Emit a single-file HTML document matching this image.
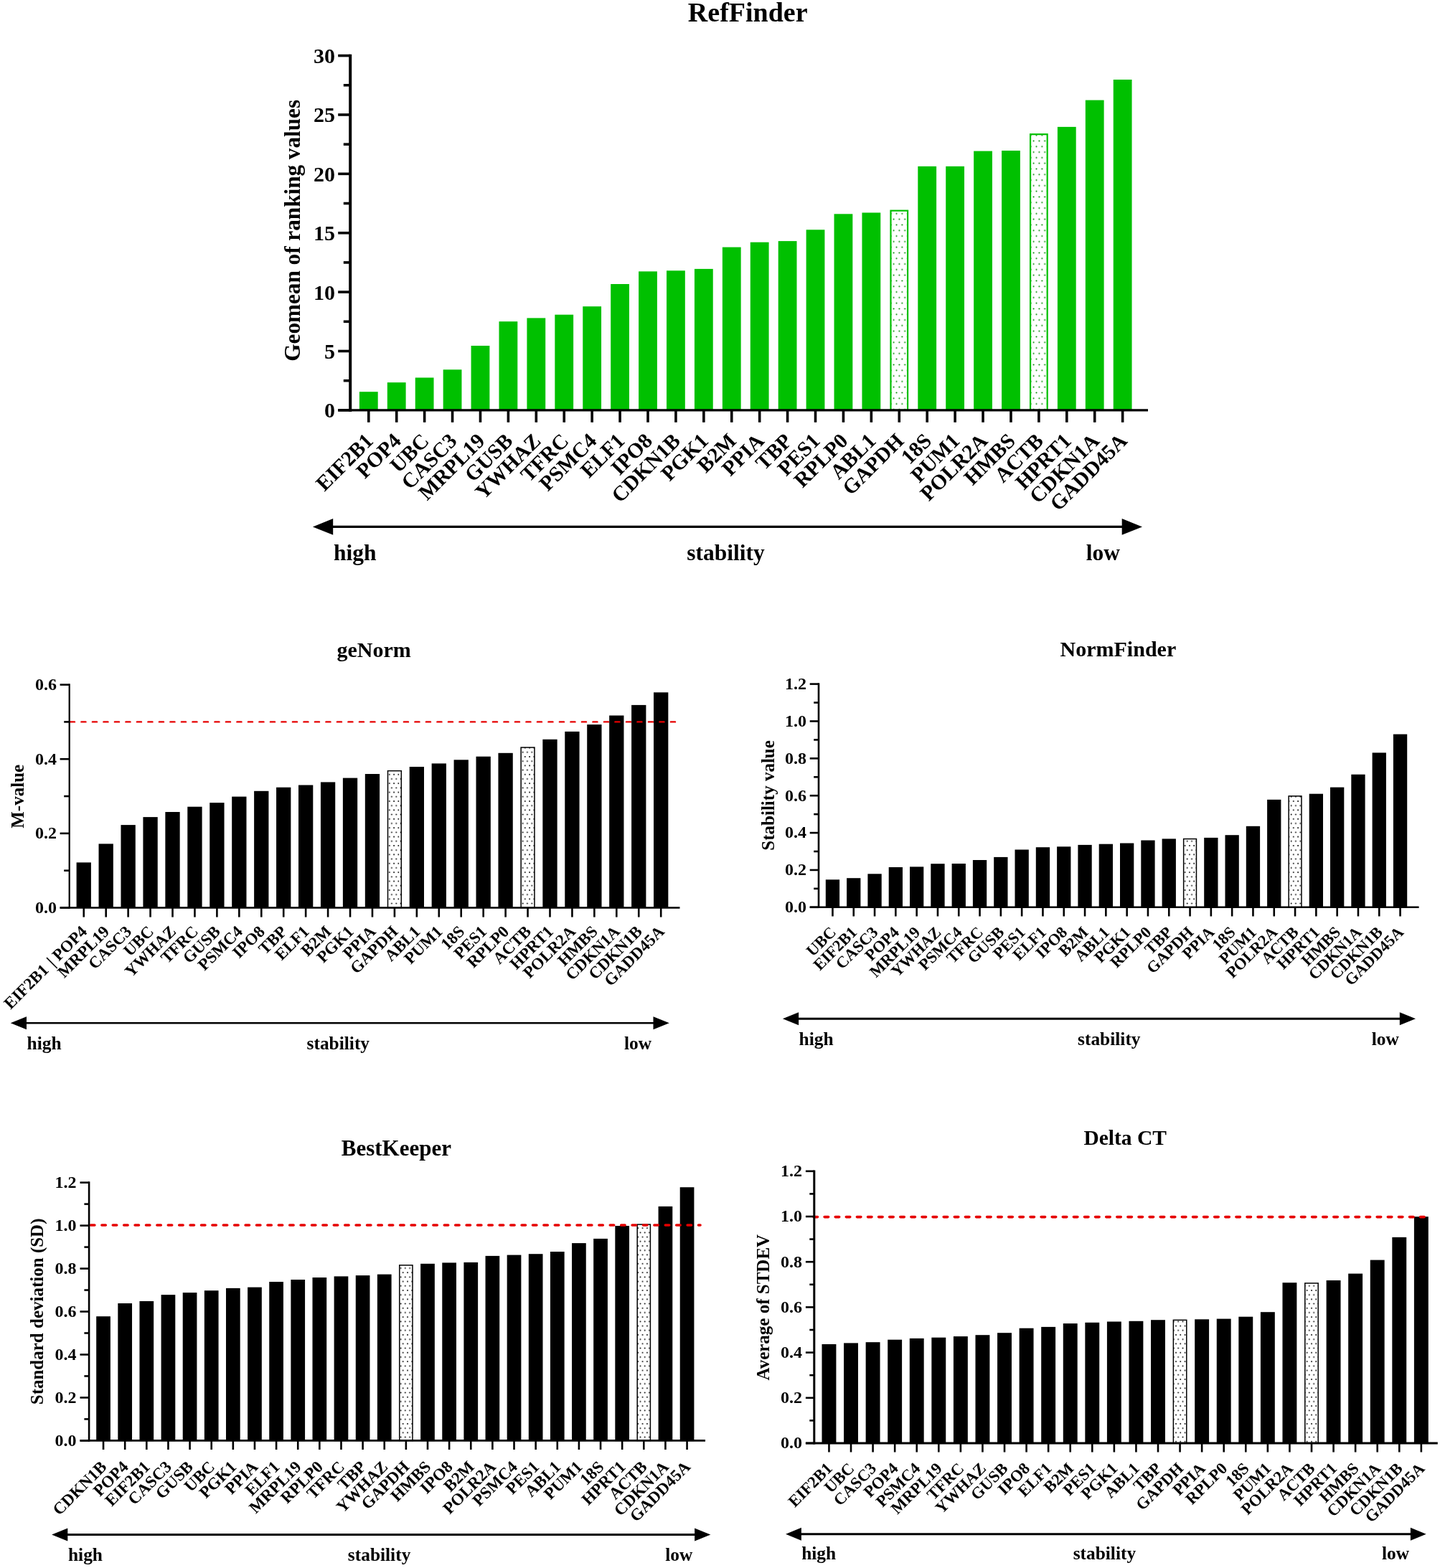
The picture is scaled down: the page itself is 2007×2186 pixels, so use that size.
<!DOCTYPE html>
<html><head><meta charset="utf-8"><title>Reference gene stability</title>
<style>
html,body{margin:0;padding:0;background:#fff;}
svg{display:block;}
text{font-family:'Liberation Serif', 'Times New Roman', serif;font-weight:bold;fill:#000;}
</style></head>
<body>
<svg width="2007" height="2186" viewBox="0 0 2007 2186">
<rect x="0" y="0" width="2007" height="2186" fill="#fff"/>
<defs>
<pattern id="pgreen" patternUnits="userSpaceOnUse" width="7.8" height="15.6" x="0" y="0">
<circle cx="1.5" cy="1.5" r="1.05" fill="#008a00"/><circle cx="5.4" cy="9.3" r="1.05" fill="#008a00"/>
<rect width="0" height="0" fill="#fff"/>
</pattern>
<pattern id="pblack" patternUnits="userSpaceOnUse" width="6.3" height="12.4" x="0" y="0">
<circle cx="1" cy="1" r="0.95" fill="#000"/><circle cx="4.15" cy="7.2" r="0.95" fill="#000"/>
</pattern>
</defs>
<rect x="500.9" y="546.2" width="25.8" height="26.2" fill="#00c000"/>
<rect x="539.82" y="533.2" width="25.8" height="39.2" fill="#00c000"/>
<rect x="578.74" y="526.5" width="25.8" height="45.9" fill="#00c000"/>
<rect x="617.66" y="515.3" width="25.8" height="57.1" fill="#00c000"/>
<rect x="656.58" y="482" width="25.8" height="90.4" fill="#00c000"/>
<rect x="695.5" y="448.2" width="25.8" height="124.2" fill="#00c000"/>
<rect x="734.42" y="443.4" width="25.8" height="129" fill="#00c000"/>
<rect x="773.34" y="438.7" width="25.8" height="133.7" fill="#00c000"/>
<rect x="812.26" y="427.2" width="25.8" height="145.2" fill="#00c000"/>
<rect x="851.18" y="396" width="25.8" height="176.4" fill="#00c000"/>
<rect x="890.1" y="378.4" width="25.8" height="194" fill="#00c000"/>
<rect x="929.02" y="377.3" width="25.8" height="195.1" fill="#00c000"/>
<rect x="967.94" y="374.9" width="25.8" height="197.5" fill="#00c000"/>
<rect x="1006.86" y="344.6" width="25.8" height="227.8" fill="#00c000"/>
<rect x="1045.78" y="337.7" width="25.8" height="234.7" fill="#00c000"/>
<rect x="1084.7" y="336.1" width="25.8" height="236.3" fill="#00c000"/>
<rect x="1123.62" y="320.3" width="25.8" height="252.1" fill="#00c000"/>
<rect x="1162.54" y="298.3" width="25.8" height="274.1" fill="#00c000"/>
<rect x="1201.46" y="296.5" width="25.8" height="275.9" fill="#00c000"/>
<rect x="1241.48" y="293.7" width="23.6" height="278.2" fill="url(#pgreen)" stroke="#00c000" stroke-width="2.2"/>
<rect x="1279.3" y="231.9" width="25.8" height="340.5" fill="#00c000"/>
<rect x="1318.22" y="231.9" width="25.8" height="340.5" fill="#00c000"/>
<rect x="1357.14" y="210.6" width="25.8" height="361.8" fill="#00c000"/>
<rect x="1396.06" y="210" width="25.8" height="362.4" fill="#00c000"/>
<rect x="1436.08" y="187.2" width="23.6" height="384.7" fill="url(#pgreen)" stroke="#00c000" stroke-width="2.2"/>
<rect x="1473.9" y="176.9" width="25.8" height="395.5" fill="#00c000"/>
<rect x="1512.82" y="139.6" width="25.8" height="432.8" fill="#00c000"/>
<rect x="1551.74" y="111" width="25.8" height="461.4" fill="#00c000"/>
<line x1="488.2" y1="75.79" x2="488.2" y2="573.9" stroke="#000" stroke-width="4"/>
<line x1="471.2" y1="571.9" x2="1600" y2="571.9" stroke="#000" stroke-width="3.4"/>
<line x1="471.2" y1="571.9" x2="488.2" y2="571.9" stroke="#000" stroke-width="3.6"/>
<text x="467" y="582.4" font-size="30" text-anchor="end">0</text>
<line x1="478.8" y1="530.71" x2="488.2" y2="530.71" stroke="#000" stroke-width="3.6"/>
<line x1="471.2" y1="489.51" x2="488.2" y2="489.51" stroke="#000" stroke-width="3.6"/>
<text x="467" y="500.01" font-size="30" text-anchor="end">5</text>
<line x1="478.8" y1="448.32" x2="488.2" y2="448.32" stroke="#000" stroke-width="3.6"/>
<line x1="471.2" y1="407.13" x2="488.2" y2="407.13" stroke="#000" stroke-width="3.6"/>
<text x="467" y="417.63" font-size="30" text-anchor="end">10</text>
<line x1="478.8" y1="365.94" x2="488.2" y2="365.94" stroke="#000" stroke-width="3.6"/>
<line x1="471.2" y1="324.75" x2="488.2" y2="324.75" stroke="#000" stroke-width="3.6"/>
<text x="467" y="335.25" font-size="30" text-anchor="end">15</text>
<line x1="478.8" y1="283.55" x2="488.2" y2="283.55" stroke="#000" stroke-width="3.6"/>
<line x1="471.2" y1="242.36" x2="488.2" y2="242.36" stroke="#000" stroke-width="3.6"/>
<text x="467" y="252.86" font-size="30" text-anchor="end">20</text>
<line x1="478.8" y1="201.17" x2="488.2" y2="201.17" stroke="#000" stroke-width="3.6"/>
<line x1="471.2" y1="159.97" x2="488.2" y2="159.97" stroke="#000" stroke-width="3.6"/>
<text x="467" y="170.47" font-size="30" text-anchor="end">25</text>
<line x1="478.8" y1="118.78" x2="488.2" y2="118.78" stroke="#000" stroke-width="3.6"/>
<line x1="471.2" y1="77.59" x2="488.2" y2="77.59" stroke="#000" stroke-width="3.6"/>
<text x="467" y="88.09" font-size="30" text-anchor="end">30</text>
<line x1="513.8" y1="571.9" x2="513.8" y2="588.8" stroke="#000" stroke-width="3.6"/>
<text x="521.8" y="616.4" font-size="29.5" text-anchor="end" transform="rotate(-45 521.8 616.4)">EIF2B1</text>
<line x1="552.72" y1="571.9" x2="552.72" y2="588.8" stroke="#000" stroke-width="3.6"/>
<text x="560.72" y="616.4" font-size="29.5" text-anchor="end" transform="rotate(-45 560.72 616.4)">POP4</text>
<line x1="591.64" y1="571.9" x2="591.64" y2="588.8" stroke="#000" stroke-width="3.6"/>
<text x="599.64" y="616.4" font-size="29.5" text-anchor="end" transform="rotate(-45 599.64 616.4)">UBC</text>
<line x1="630.56" y1="571.9" x2="630.56" y2="588.8" stroke="#000" stroke-width="3.6"/>
<text x="638.56" y="616.4" font-size="29.5" text-anchor="end" transform="rotate(-45 638.56 616.4)">CASC3</text>
<line x1="669.48" y1="571.9" x2="669.48" y2="588.8" stroke="#000" stroke-width="3.6"/>
<text x="677.48" y="616.4" font-size="29.5" text-anchor="end" transform="rotate(-45 677.48 616.4)">MRPL19</text>
<line x1="708.4" y1="571.9" x2="708.4" y2="588.8" stroke="#000" stroke-width="3.6"/>
<text x="716.4" y="616.4" font-size="29.5" text-anchor="end" transform="rotate(-45 716.4 616.4)">GUSB</text>
<line x1="747.32" y1="571.9" x2="747.32" y2="588.8" stroke="#000" stroke-width="3.6"/>
<text x="755.32" y="616.4" font-size="29.5" text-anchor="end" transform="rotate(-45 755.32 616.4)">YWHAZ</text>
<line x1="786.24" y1="571.9" x2="786.24" y2="588.8" stroke="#000" stroke-width="3.6"/>
<text x="794.24" y="616.4" font-size="29.5" text-anchor="end" transform="rotate(-45 794.24 616.4)">TFRC</text>
<line x1="825.16" y1="571.9" x2="825.16" y2="588.8" stroke="#000" stroke-width="3.6"/>
<text x="833.16" y="616.4" font-size="29.5" text-anchor="end" transform="rotate(-45 833.16 616.4)">PSMC4</text>
<line x1="864.08" y1="571.9" x2="864.08" y2="588.8" stroke="#000" stroke-width="3.6"/>
<text x="872.08" y="616.4" font-size="29.5" text-anchor="end" transform="rotate(-45 872.08 616.4)">ELF1</text>
<line x1="903" y1="571.9" x2="903" y2="588.8" stroke="#000" stroke-width="3.6"/>
<text x="911" y="616.4" font-size="29.5" text-anchor="end" transform="rotate(-45 911 616.4)">IPO8</text>
<line x1="941.92" y1="571.9" x2="941.92" y2="588.8" stroke="#000" stroke-width="3.6"/>
<text x="949.92" y="616.4" font-size="29.5" text-anchor="end" transform="rotate(-45 949.92 616.4)">CDKN1B</text>
<line x1="980.84" y1="571.9" x2="980.84" y2="588.8" stroke="#000" stroke-width="3.6"/>
<text x="988.84" y="616.4" font-size="29.5" text-anchor="end" transform="rotate(-45 988.84 616.4)">PGK1</text>
<line x1="1019.76" y1="571.9" x2="1019.76" y2="588.8" stroke="#000" stroke-width="3.6"/>
<text x="1027.76" y="616.4" font-size="29.5" text-anchor="end" transform="rotate(-45 1027.76 616.4)">B2M</text>
<line x1="1058.68" y1="571.9" x2="1058.68" y2="588.8" stroke="#000" stroke-width="3.6"/>
<text x="1066.68" y="616.4" font-size="29.5" text-anchor="end" transform="rotate(-45 1066.68 616.4)">PPIA</text>
<line x1="1097.6" y1="571.9" x2="1097.6" y2="588.8" stroke="#000" stroke-width="3.6"/>
<text x="1105.6" y="616.4" font-size="29.5" text-anchor="end" transform="rotate(-45 1105.6 616.4)">TBP</text>
<line x1="1136.52" y1="571.9" x2="1136.52" y2="588.8" stroke="#000" stroke-width="3.6"/>
<text x="1144.52" y="616.4" font-size="29.5" text-anchor="end" transform="rotate(-45 1144.52 616.4)">PES1</text>
<line x1="1175.44" y1="571.9" x2="1175.44" y2="588.8" stroke="#000" stroke-width="3.6"/>
<text x="1183.44" y="616.4" font-size="29.5" text-anchor="end" transform="rotate(-45 1183.44 616.4)">RPLP0</text>
<line x1="1214.36" y1="571.9" x2="1214.36" y2="588.8" stroke="#000" stroke-width="3.6"/>
<text x="1222.36" y="616.4" font-size="29.5" text-anchor="end" transform="rotate(-45 1222.36 616.4)">ABL1</text>
<line x1="1253.28" y1="571.9" x2="1253.28" y2="588.8" stroke="#000" stroke-width="3.6"/>
<text x="1261.28" y="616.4" font-size="29.5" text-anchor="end" transform="rotate(-45 1261.28 616.4)">GAPDH</text>
<line x1="1292.2" y1="571.9" x2="1292.2" y2="588.8" stroke="#000" stroke-width="3.6"/>
<text x="1300.2" y="616.4" font-size="29.5" text-anchor="end" transform="rotate(-45 1300.2 616.4)">18S</text>
<line x1="1331.12" y1="571.9" x2="1331.12" y2="588.8" stroke="#000" stroke-width="3.6"/>
<text x="1339.12" y="616.4" font-size="29.5" text-anchor="end" transform="rotate(-45 1339.12 616.4)">PUM1</text>
<line x1="1370.04" y1="571.9" x2="1370.04" y2="588.8" stroke="#000" stroke-width="3.6"/>
<text x="1378.04" y="616.4" font-size="29.5" text-anchor="end" transform="rotate(-45 1378.04 616.4)">POLR2A</text>
<line x1="1408.96" y1="571.9" x2="1408.96" y2="588.8" stroke="#000" stroke-width="3.6"/>
<text x="1416.96" y="616.4" font-size="29.5" text-anchor="end" transform="rotate(-45 1416.96 616.4)">HMBS</text>
<line x1="1447.88" y1="571.9" x2="1447.88" y2="588.8" stroke="#000" stroke-width="3.6"/>
<text x="1455.88" y="616.4" font-size="29.5" text-anchor="end" transform="rotate(-45 1455.88 616.4)">ACTB</text>
<line x1="1486.8" y1="571.9" x2="1486.8" y2="588.8" stroke="#000" stroke-width="3.6"/>
<text x="1494.8" y="616.4" font-size="29.5" text-anchor="end" transform="rotate(-45 1494.8 616.4)">HPRT1</text>
<line x1="1525.72" y1="571.9" x2="1525.72" y2="588.8" stroke="#000" stroke-width="3.6"/>
<text x="1533.72" y="616.4" font-size="29.5" text-anchor="end" transform="rotate(-45 1533.72 616.4)">CDKN1A</text>
<line x1="1564.64" y1="571.9" x2="1564.64" y2="588.8" stroke="#000" stroke-width="3.6"/>
<text x="1572.64" y="616.4" font-size="29.5" text-anchor="end" transform="rotate(-45 1572.64 616.4)">GADD45A</text>
<text x="1042.2" y="29.8" font-size="38" text-anchor="middle">RefFinder</text>
<text x="418.1" y="321.3" font-size="31.2" text-anchor="middle" transform="rotate(-90 418.1 321.3)">Geomean of ranking values</text>
<line x1="463.2" y1="734.4" x2="1564.7" y2="734.4" stroke="#000" stroke-width="3.2"/>
<polygon points="435.9,734.4 464.2,723 464.2,745.8" fill="#000"/>
<polygon points="1592,734.4 1563.7,723 1563.7,745.8" fill="#000"/>
<text x="465" y="781.3" font-size="31.5" text-anchor="start">high</text>
<text x="1011.4" y="781.3" font-size="31.5" text-anchor="middle">stability</text>
<text x="1561" y="781.3" font-size="31.5" text-anchor="end">low</text>
<rect x="106.6" y="1202.4" width="20.3" height="63.6" fill="#000"/>
<rect x="137.54" y="1176.4" width="20.3" height="89.6" fill="#000"/>
<rect x="168.48" y="1150.1" width="20.3" height="115.9" fill="#000"/>
<rect x="199.42" y="1139.1" width="20.3" height="126.9" fill="#000"/>
<rect x="230.36" y="1132" width="20.3" height="134" fill="#000"/>
<rect x="261.3" y="1124.7" width="20.3" height="141.3" fill="#000"/>
<rect x="292.24" y="1119.1" width="20.3" height="146.9" fill="#000"/>
<rect x="323.18" y="1110.6" width="20.3" height="155.4" fill="#000"/>
<rect x="354.12" y="1102.8" width="20.3" height="163.2" fill="#000"/>
<rect x="385.06" y="1097.7" width="20.3" height="168.3" fill="#000"/>
<rect x="416" y="1094.5" width="20.3" height="171.5" fill="#000"/>
<rect x="446.94" y="1090.4" width="20.3" height="175.6" fill="#000"/>
<rect x="477.88" y="1084.6" width="20.3" height="181.4" fill="#000"/>
<rect x="508.82" y="1079" width="20.3" height="187" fill="#000"/>
<rect x="540.51" y="1074.65" width="18.8" height="190.85" fill="url(#pblack)" stroke="#000" stroke-width="1.5"/>
<rect x="570.7" y="1069" width="20.3" height="197" fill="#000"/>
<rect x="601.64" y="1064.4" width="20.3" height="201.6" fill="#000"/>
<rect x="632.58" y="1059.3" width="20.3" height="206.7" fill="#000"/>
<rect x="663.52" y="1054.7" width="20.3" height="211.3" fill="#000"/>
<rect x="694.46" y="1049.8" width="20.3" height="216.2" fill="#000"/>
<rect x="726.15" y="1042.05" width="18.8" height="223.45" fill="url(#pblack)" stroke="#000" stroke-width="1.5"/>
<rect x="756.34" y="1030.8" width="20.3" height="235.2" fill="#000"/>
<rect x="787.28" y="1019.9" width="20.3" height="246.1" fill="#000"/>
<rect x="818.22" y="1010.1" width="20.3" height="255.9" fill="#000"/>
<rect x="849.16" y="997.5" width="20.3" height="268.5" fill="#000"/>
<rect x="880.1" y="982.9" width="20.3" height="283.1" fill="#000"/>
<rect x="911.04" y="965.3" width="20.3" height="300.7" fill="#000"/>
<line x1="97.9" y1="1006.4" x2="950" y2="1006.4" stroke="#e60000" stroke-width="2.4" stroke-dasharray="6.1 9.4" stroke-linecap="round"/>
<line x1="96.7" y1="953.28" x2="96.7" y2="1266.6" stroke="#000" stroke-width="2.2"/>
<line x1="83.6" y1="1265.5" x2="947.5" y2="1265.5" stroke="#000" stroke-width="2.6"/>
<line x1="83.6" y1="1265.5" x2="96.7" y2="1265.5" stroke="#000" stroke-width="2.6"/>
<text x="79" y="1272.9" font-size="24" text-anchor="end">0.0</text>
<line x1="89.2" y1="1213.68" x2="96.7" y2="1213.68" stroke="#000" stroke-width="2.6"/>
<line x1="83.6" y1="1161.86" x2="96.7" y2="1161.86" stroke="#000" stroke-width="2.6"/>
<text x="79" y="1169.26" font-size="24" text-anchor="end">0.2</text>
<line x1="89.2" y1="1110.04" x2="96.7" y2="1110.04" stroke="#000" stroke-width="2.6"/>
<line x1="83.6" y1="1058.22" x2="96.7" y2="1058.22" stroke="#000" stroke-width="2.6"/>
<text x="79" y="1065.62" font-size="24" text-anchor="end">0.4</text>
<line x1="89.2" y1="1006.4" x2="96.7" y2="1006.4" stroke="#000" stroke-width="2.6"/>
<line x1="83.6" y1="954.58" x2="96.7" y2="954.58" stroke="#000" stroke-width="2.6"/>
<text x="79" y="961.98" font-size="24" text-anchor="end">0.6</text>
<line x1="116.75" y1="1265.5" x2="116.75" y2="1278.6" stroke="#000" stroke-width="2.6"/>
<text x="122.75" y="1300" font-size="23" text-anchor="end" transform="rotate(-45 122.75 1300)">EIF2B1&#8202; | POP4</text>
<line x1="147.69" y1="1265.5" x2="147.69" y2="1278.6" stroke="#000" stroke-width="2.6"/>
<text x="153.69" y="1300" font-size="23" text-anchor="end" transform="rotate(-45 153.69 1300)">MRPL19</text>
<line x1="178.63" y1="1265.5" x2="178.63" y2="1278.6" stroke="#000" stroke-width="2.6"/>
<text x="184.63" y="1300" font-size="23" text-anchor="end" transform="rotate(-45 184.63 1300)">CASC3</text>
<line x1="209.57" y1="1265.5" x2="209.57" y2="1278.6" stroke="#000" stroke-width="2.6"/>
<text x="215.57" y="1300" font-size="23" text-anchor="end" transform="rotate(-45 215.57 1300)">UBC</text>
<line x1="240.51" y1="1265.5" x2="240.51" y2="1278.6" stroke="#000" stroke-width="2.6"/>
<text x="246.51" y="1300" font-size="23" text-anchor="end" transform="rotate(-45 246.51 1300)">YWHAZ</text>
<line x1="271.45" y1="1265.5" x2="271.45" y2="1278.6" stroke="#000" stroke-width="2.6"/>
<text x="277.45" y="1300" font-size="23" text-anchor="end" transform="rotate(-45 277.45 1300)">TFRC</text>
<line x1="302.39" y1="1265.5" x2="302.39" y2="1278.6" stroke="#000" stroke-width="2.6"/>
<text x="308.39" y="1300" font-size="23" text-anchor="end" transform="rotate(-45 308.39 1300)">GUSB</text>
<line x1="333.33" y1="1265.5" x2="333.33" y2="1278.6" stroke="#000" stroke-width="2.6"/>
<text x="339.33" y="1300" font-size="23" text-anchor="end" transform="rotate(-45 339.33 1300)">PSMC4</text>
<line x1="364.27" y1="1265.5" x2="364.27" y2="1278.6" stroke="#000" stroke-width="2.6"/>
<text x="370.27" y="1300" font-size="23" text-anchor="end" transform="rotate(-45 370.27 1300)">IPO8</text>
<line x1="395.21" y1="1265.5" x2="395.21" y2="1278.6" stroke="#000" stroke-width="2.6"/>
<text x="401.21" y="1300" font-size="23" text-anchor="end" transform="rotate(-45 401.21 1300)">TBP</text>
<line x1="426.15" y1="1265.5" x2="426.15" y2="1278.6" stroke="#000" stroke-width="2.6"/>
<text x="432.15" y="1300" font-size="23" text-anchor="end" transform="rotate(-45 432.15 1300)">ELF1</text>
<line x1="457.09" y1="1265.5" x2="457.09" y2="1278.6" stroke="#000" stroke-width="2.6"/>
<text x="463.09" y="1300" font-size="23" text-anchor="end" transform="rotate(-45 463.09 1300)">B2M</text>
<line x1="488.03" y1="1265.5" x2="488.03" y2="1278.6" stroke="#000" stroke-width="2.6"/>
<text x="494.03" y="1300" font-size="23" text-anchor="end" transform="rotate(-45 494.03 1300)">PGK1</text>
<line x1="518.97" y1="1265.5" x2="518.97" y2="1278.6" stroke="#000" stroke-width="2.6"/>
<text x="524.97" y="1300" font-size="23" text-anchor="end" transform="rotate(-45 524.97 1300)">PPIA</text>
<line x1="549.91" y1="1265.5" x2="549.91" y2="1278.6" stroke="#000" stroke-width="2.6"/>
<text x="555.91" y="1300" font-size="23" text-anchor="end" transform="rotate(-45 555.91 1300)">GAPDH</text>
<line x1="580.85" y1="1265.5" x2="580.85" y2="1278.6" stroke="#000" stroke-width="2.6"/>
<text x="586.85" y="1300" font-size="23" text-anchor="end" transform="rotate(-45 586.85 1300)">ABL1</text>
<line x1="611.79" y1="1265.5" x2="611.79" y2="1278.6" stroke="#000" stroke-width="2.6"/>
<text x="617.79" y="1300" font-size="23" text-anchor="end" transform="rotate(-45 617.79 1300)">PUM1</text>
<line x1="642.73" y1="1265.5" x2="642.73" y2="1278.6" stroke="#000" stroke-width="2.6"/>
<text x="648.73" y="1300" font-size="23" text-anchor="end" transform="rotate(-45 648.73 1300)">18S</text>
<line x1="673.67" y1="1265.5" x2="673.67" y2="1278.6" stroke="#000" stroke-width="2.6"/>
<text x="679.67" y="1300" font-size="23" text-anchor="end" transform="rotate(-45 679.67 1300)">PES1</text>
<line x1="704.61" y1="1265.5" x2="704.61" y2="1278.6" stroke="#000" stroke-width="2.6"/>
<text x="710.61" y="1300" font-size="23" text-anchor="end" transform="rotate(-45 710.61 1300)">RPLP0</text>
<line x1="735.55" y1="1265.5" x2="735.55" y2="1278.6" stroke="#000" stroke-width="2.6"/>
<text x="741.55" y="1300" font-size="23" text-anchor="end" transform="rotate(-45 741.55 1300)">ACTB</text>
<line x1="766.49" y1="1265.5" x2="766.49" y2="1278.6" stroke="#000" stroke-width="2.6"/>
<text x="772.49" y="1300" font-size="23" text-anchor="end" transform="rotate(-45 772.49 1300)">HPRT1</text>
<line x1="797.43" y1="1265.5" x2="797.43" y2="1278.6" stroke="#000" stroke-width="2.6"/>
<text x="803.43" y="1300" font-size="23" text-anchor="end" transform="rotate(-45 803.43 1300)">POLR2A</text>
<line x1="828.37" y1="1265.5" x2="828.37" y2="1278.6" stroke="#000" stroke-width="2.6"/>
<text x="834.37" y="1300" font-size="23" text-anchor="end" transform="rotate(-45 834.37 1300)">HMBS</text>
<line x1="859.31" y1="1265.5" x2="859.31" y2="1278.6" stroke="#000" stroke-width="2.6"/>
<text x="865.31" y="1300" font-size="23" text-anchor="end" transform="rotate(-45 865.31 1300)">CDKN1A</text>
<line x1="890.25" y1="1265.5" x2="890.25" y2="1278.6" stroke="#000" stroke-width="2.6"/>
<text x="896.25" y="1300" font-size="23" text-anchor="end" transform="rotate(-45 896.25 1300)">CDKN1B</text>
<line x1="921.19" y1="1265.5" x2="921.19" y2="1278.6" stroke="#000" stroke-width="2.6"/>
<text x="927.19" y="1300" font-size="23" text-anchor="end" transform="rotate(-45 927.19 1300)">GADD45A</text>
<text x="521.1" y="915.7" font-size="30" text-anchor="middle">geNorm</text>
<text x="33" y="1110.3" font-size="25" text-anchor="middle" transform="rotate(-90 33 1110.3)">M-value</text>
<line x1="36" y1="1426.3" x2="911.5" y2="1426.3" stroke="#000" stroke-width="2.6"/>
<polygon points="14.7,1426.3 37,1417.3 37,1435.3" fill="#000"/>
<polygon points="932.8,1426.3 910.5,1417.3 910.5,1435.3" fill="#000"/>
<text x="37.6" y="1462.8" font-size="25.4" text-anchor="start">high</text>
<text x="471.3" y="1462.8" font-size="25.4" text-anchor="middle">stability</text>
<text x="908" y="1462.8" font-size="25.4" text-anchor="end">low</text>
<rect x="1150.8" y="1226.3" width="19.3" height="39" fill="#000"/>
<rect x="1180.1" y="1224.2" width="19.3" height="41.1" fill="#000"/>
<rect x="1209.4" y="1218.3" width="19.3" height="47" fill="#000"/>
<rect x="1238.7" y="1209" width="19.3" height="56.3" fill="#000"/>
<rect x="1268" y="1208.4" width="19.3" height="56.9" fill="#000"/>
<rect x="1297.3" y="1204.2" width="19.3" height="61.1" fill="#000"/>
<rect x="1326.6" y="1204" width="19.3" height="61.3" fill="#000"/>
<rect x="1355.9" y="1199" width="19.3" height="66.3" fill="#000"/>
<rect x="1385.2" y="1194.9" width="19.3" height="70.4" fill="#000"/>
<rect x="1414.5" y="1184.5" width="19.3" height="80.8" fill="#000"/>
<rect x="1443.8" y="1181.2" width="19.3" height="84.1" fill="#000"/>
<rect x="1473.1" y="1180.3" width="19.3" height="85" fill="#000"/>
<rect x="1502.4" y="1177.9" width="19.3" height="87.4" fill="#000"/>
<rect x="1531.7" y="1176.7" width="19.3" height="88.6" fill="#000"/>
<rect x="1561" y="1175.5" width="19.3" height="89.8" fill="#000"/>
<rect x="1590.3" y="1171.5" width="19.3" height="93.8" fill="#000"/>
<rect x="1619.6" y="1169.4" width="19.3" height="95.9" fill="#000"/>
<rect x="1649.65" y="1169.55" width="17.8" height="95.25" fill="url(#pblack)" stroke="#000" stroke-width="1.5"/>
<rect x="1678.2" y="1167.9" width="19.3" height="97.4" fill="#000"/>
<rect x="1707.5" y="1164.2" width="19.3" height="101.1" fill="#000"/>
<rect x="1736.8" y="1151.8" width="19.3" height="113.5" fill="#000"/>
<rect x="1766.1" y="1114.8" width="19.3" height="150.5" fill="#000"/>
<rect x="1796.15" y="1109.85" width="17.8" height="154.95" fill="url(#pblack)" stroke="#000" stroke-width="1.5"/>
<rect x="1824.7" y="1106.7" width="19.3" height="158.6" fill="#000"/>
<rect x="1854" y="1097.6" width="19.3" height="167.7" fill="#000"/>
<rect x="1883.3" y="1079.7" width="19.3" height="185.6" fill="#000"/>
<rect x="1912.6" y="1049.4" width="19.3" height="215.9" fill="#000"/>
<rect x="1941.9" y="1023.6" width="19.3" height="241.7" fill="#000"/>
<line x1="1141" y1="952.3" x2="1141" y2="1266.1" stroke="#000" stroke-width="2.6"/>
<line x1="1128.7" y1="1264.8" x2="1977.6" y2="1264.8" stroke="#000" stroke-width="2.6"/>
<line x1="1128.7" y1="1264.8" x2="1141" y2="1264.8" stroke="#000" stroke-width="2.6"/>
<text x="1124" y="1272.2" font-size="24" text-anchor="end">0.0</text>
<line x1="1134.2" y1="1238.87" x2="1141" y2="1238.87" stroke="#000" stroke-width="2.6"/>
<line x1="1128.7" y1="1212.93" x2="1141" y2="1212.93" stroke="#000" stroke-width="2.6"/>
<text x="1124" y="1220.33" font-size="24" text-anchor="end">0.2</text>
<line x1="1134.2" y1="1187" x2="1141" y2="1187" stroke="#000" stroke-width="2.6"/>
<line x1="1128.7" y1="1161.07" x2="1141" y2="1161.07" stroke="#000" stroke-width="2.6"/>
<text x="1124" y="1168.47" font-size="24" text-anchor="end">0.4</text>
<line x1="1134.2" y1="1135.13" x2="1141" y2="1135.13" stroke="#000" stroke-width="2.6"/>
<line x1="1128.7" y1="1109.2" x2="1141" y2="1109.2" stroke="#000" stroke-width="2.6"/>
<text x="1124" y="1116.6" font-size="24" text-anchor="end">0.6</text>
<line x1="1134.2" y1="1083.27" x2="1141" y2="1083.27" stroke="#000" stroke-width="2.6"/>
<line x1="1128.7" y1="1057.34" x2="1141" y2="1057.34" stroke="#000" stroke-width="2.6"/>
<text x="1124" y="1064.74" font-size="24" text-anchor="end">0.8</text>
<line x1="1134.2" y1="1031.4" x2="1141" y2="1031.4" stroke="#000" stroke-width="2.6"/>
<line x1="1128.7" y1="1005.47" x2="1141" y2="1005.47" stroke="#000" stroke-width="2.6"/>
<text x="1124" y="1012.87" font-size="24" text-anchor="end">1.0</text>
<line x1="1134.2" y1="979.54" x2="1141" y2="979.54" stroke="#000" stroke-width="2.6"/>
<line x1="1128.7" y1="953.6" x2="1141" y2="953.6" stroke="#000" stroke-width="2.6"/>
<text x="1124" y="961" font-size="24" text-anchor="end">1.2</text>
<line x1="1160.45" y1="1264.8" x2="1160.45" y2="1277.5" stroke="#000" stroke-width="2.6"/>
<text x="1166.45" y="1301" font-size="22.5" text-anchor="end" transform="rotate(-45 1166.45 1301)">UBC</text>
<line x1="1189.75" y1="1264.8" x2="1189.75" y2="1277.5" stroke="#000" stroke-width="2.6"/>
<text x="1195.75" y="1301" font-size="22.5" text-anchor="end" transform="rotate(-45 1195.75 1301)">EIF2B1</text>
<line x1="1219.05" y1="1264.8" x2="1219.05" y2="1277.5" stroke="#000" stroke-width="2.6"/>
<text x="1225.05" y="1301" font-size="22.5" text-anchor="end" transform="rotate(-45 1225.05 1301)">CASC3</text>
<line x1="1248.35" y1="1264.8" x2="1248.35" y2="1277.5" stroke="#000" stroke-width="2.6"/>
<text x="1254.35" y="1301" font-size="22.5" text-anchor="end" transform="rotate(-45 1254.35 1301)">POP4</text>
<line x1="1277.65" y1="1264.8" x2="1277.65" y2="1277.5" stroke="#000" stroke-width="2.6"/>
<text x="1283.65" y="1301" font-size="22.5" text-anchor="end" transform="rotate(-45 1283.65 1301)">MRPL19</text>
<line x1="1306.95" y1="1264.8" x2="1306.95" y2="1277.5" stroke="#000" stroke-width="2.6"/>
<text x="1312.95" y="1301" font-size="22.5" text-anchor="end" transform="rotate(-45 1312.95 1301)">YWHAZ</text>
<line x1="1336.25" y1="1264.8" x2="1336.25" y2="1277.5" stroke="#000" stroke-width="2.6"/>
<text x="1342.25" y="1301" font-size="22.5" text-anchor="end" transform="rotate(-45 1342.25 1301)">PSMC4</text>
<line x1="1365.55" y1="1264.8" x2="1365.55" y2="1277.5" stroke="#000" stroke-width="2.6"/>
<text x="1371.55" y="1301" font-size="22.5" text-anchor="end" transform="rotate(-45 1371.55 1301)">TFRC</text>
<line x1="1394.85" y1="1264.8" x2="1394.85" y2="1277.5" stroke="#000" stroke-width="2.6"/>
<text x="1400.85" y="1301" font-size="22.5" text-anchor="end" transform="rotate(-45 1400.85 1301)">GUSB</text>
<line x1="1424.15" y1="1264.8" x2="1424.15" y2="1277.5" stroke="#000" stroke-width="2.6"/>
<text x="1430.15" y="1301" font-size="22.5" text-anchor="end" transform="rotate(-45 1430.15 1301)">PES1</text>
<line x1="1453.45" y1="1264.8" x2="1453.45" y2="1277.5" stroke="#000" stroke-width="2.6"/>
<text x="1459.45" y="1301" font-size="22.5" text-anchor="end" transform="rotate(-45 1459.45 1301)">ELF1</text>
<line x1="1482.75" y1="1264.8" x2="1482.75" y2="1277.5" stroke="#000" stroke-width="2.6"/>
<text x="1488.75" y="1301" font-size="22.5" text-anchor="end" transform="rotate(-45 1488.75 1301)">IPO8</text>
<line x1="1512.05" y1="1264.8" x2="1512.05" y2="1277.5" stroke="#000" stroke-width="2.6"/>
<text x="1518.05" y="1301" font-size="22.5" text-anchor="end" transform="rotate(-45 1518.05 1301)">B2M</text>
<line x1="1541.35" y1="1264.8" x2="1541.35" y2="1277.5" stroke="#000" stroke-width="2.6"/>
<text x="1547.35" y="1301" font-size="22.5" text-anchor="end" transform="rotate(-45 1547.35 1301)">ABL1</text>
<line x1="1570.65" y1="1264.8" x2="1570.65" y2="1277.5" stroke="#000" stroke-width="2.6"/>
<text x="1576.65" y="1301" font-size="22.5" text-anchor="end" transform="rotate(-45 1576.65 1301)">PGK1</text>
<line x1="1599.95" y1="1264.8" x2="1599.95" y2="1277.5" stroke="#000" stroke-width="2.6"/>
<text x="1605.95" y="1301" font-size="22.5" text-anchor="end" transform="rotate(-45 1605.95 1301)">RPLP0</text>
<line x1="1629.25" y1="1264.8" x2="1629.25" y2="1277.5" stroke="#000" stroke-width="2.6"/>
<text x="1635.25" y="1301" font-size="22.5" text-anchor="end" transform="rotate(-45 1635.25 1301)">TBP</text>
<line x1="1658.55" y1="1264.8" x2="1658.55" y2="1277.5" stroke="#000" stroke-width="2.6"/>
<text x="1664.55" y="1301" font-size="22.5" text-anchor="end" transform="rotate(-45 1664.55 1301)">GAPDH</text>
<line x1="1687.85" y1="1264.8" x2="1687.85" y2="1277.5" stroke="#000" stroke-width="2.6"/>
<text x="1693.85" y="1301" font-size="22.5" text-anchor="end" transform="rotate(-45 1693.85 1301)">PPIA</text>
<line x1="1717.15" y1="1264.8" x2="1717.15" y2="1277.5" stroke="#000" stroke-width="2.6"/>
<text x="1723.15" y="1301" font-size="22.5" text-anchor="end" transform="rotate(-45 1723.15 1301)">18S</text>
<line x1="1746.45" y1="1264.8" x2="1746.45" y2="1277.5" stroke="#000" stroke-width="2.6"/>
<text x="1752.45" y="1301" font-size="22.5" text-anchor="end" transform="rotate(-45 1752.45 1301)">PUM1</text>
<line x1="1775.75" y1="1264.8" x2="1775.75" y2="1277.5" stroke="#000" stroke-width="2.6"/>
<text x="1781.75" y="1301" font-size="22.5" text-anchor="end" transform="rotate(-45 1781.75 1301)">POLR2A</text>
<line x1="1805.05" y1="1264.8" x2="1805.05" y2="1277.5" stroke="#000" stroke-width="2.6"/>
<text x="1811.05" y="1301" font-size="22.5" text-anchor="end" transform="rotate(-45 1811.05 1301)">ACTB</text>
<line x1="1834.35" y1="1264.8" x2="1834.35" y2="1277.5" stroke="#000" stroke-width="2.6"/>
<text x="1840.35" y="1301" font-size="22.5" text-anchor="end" transform="rotate(-45 1840.35 1301)">HPRT1</text>
<line x1="1863.65" y1="1264.8" x2="1863.65" y2="1277.5" stroke="#000" stroke-width="2.6"/>
<text x="1869.65" y="1301" font-size="22.5" text-anchor="end" transform="rotate(-45 1869.65 1301)">HMBS</text>
<line x1="1892.95" y1="1264.8" x2="1892.95" y2="1277.5" stroke="#000" stroke-width="2.6"/>
<text x="1898.95" y="1301" font-size="22.5" text-anchor="end" transform="rotate(-45 1898.95 1301)">CDKN1A</text>
<line x1="1922.25" y1="1264.8" x2="1922.25" y2="1277.5" stroke="#000" stroke-width="2.6"/>
<text x="1928.25" y="1301" font-size="22.5" text-anchor="end" transform="rotate(-45 1928.25 1301)">CDKN1B</text>
<line x1="1951.55" y1="1264.8" x2="1951.55" y2="1277.5" stroke="#000" stroke-width="2.6"/>
<text x="1957.55" y="1301" font-size="22.5" text-anchor="end" transform="rotate(-45 1957.55 1301)">GADD45A</text>
<text x="1558.4" y="915.3" font-size="30" text-anchor="middle">NormFinder</text>
<text x="1079.4" y="1108.9" font-size="25" text-anchor="middle" transform="rotate(-90 1079.4 1108.9)">Stability value</text>
<line x1="1112.1" y1="1420.3" x2="1951.8" y2="1420.3" stroke="#000" stroke-width="3"/>
<polygon points="1090.9,1420.3 1113.1,1411.3 1113.1,1429.3" fill="#000"/>
<polygon points="1973,1420.3 1950.8,1411.3 1950.8,1429.3" fill="#000"/>
<text x="1113.6" y="1457.2" font-size="25.4" text-anchor="start">high</text>
<text x="1545.8" y="1457.2" font-size="25.4" text-anchor="middle">stability</text>
<text x="1949.8" y="1457.2" font-size="25.4" text-anchor="end">low</text>
<rect x="134.2" y="1835.2" width="19.7" height="173.7" fill="#000"/>
<rect x="164.33" y="1817" width="19.7" height="191.9" fill="#000"/>
<rect x="194.46" y="1814" width="19.7" height="194.9" fill="#000"/>
<rect x="224.59" y="1805.1" width="19.7" height="203.8" fill="#000"/>
<rect x="254.72" y="1802.1" width="19.7" height="206.8" fill="#000"/>
<rect x="284.85" y="1799.2" width="19.7" height="209.7" fill="#000"/>
<rect x="314.98" y="1795.9" width="19.7" height="213" fill="#000"/>
<rect x="345.11" y="1794.6" width="19.7" height="214.3" fill="#000"/>
<rect x="375.24" y="1787" width="19.7" height="221.9" fill="#000"/>
<rect x="405.37" y="1784" width="19.7" height="224.9" fill="#000"/>
<rect x="435.5" y="1781" width="19.7" height="227.9" fill="#000"/>
<rect x="465.63" y="1779.4" width="19.7" height="229.5" fill="#000"/>
<rect x="495.76" y="1778.1" width="19.7" height="230.8" fill="#000"/>
<rect x="525.89" y="1776.6" width="19.7" height="232.3" fill="#000"/>
<rect x="556.77" y="1763.85" width="18.2" height="244.55" fill="url(#pblack)" stroke="#000" stroke-width="1.5"/>
<rect x="586.15" y="1761.8" width="19.7" height="247.1" fill="#000"/>
<rect x="616.28" y="1760.4" width="19.7" height="248.5" fill="#000"/>
<rect x="646.41" y="1759.9" width="19.7" height="249" fill="#000"/>
<rect x="676.54" y="1750.9" width="19.7" height="258" fill="#000"/>
<rect x="706.67" y="1749.6" width="19.7" height="259.3" fill="#000"/>
<rect x="736.8" y="1748.2" width="19.7" height="260.7" fill="#000"/>
<rect x="766.93" y="1745" width="19.7" height="263.9" fill="#000"/>
<rect x="797.06" y="1733.1" width="19.7" height="275.8" fill="#000"/>
<rect x="827.19" y="1726.9" width="19.7" height="282" fill="#000"/>
<rect x="857.32" y="1709" width="19.7" height="299.9" fill="#000"/>
<rect x="888.2" y="1707.05" width="18.2" height="301.35" fill="url(#pblack)" stroke="#000" stroke-width="1.5"/>
<rect x="917.58" y="1681.9" width="19.7" height="327" fill="#000"/>
<rect x="947.71" y="1655.2" width="19.7" height="353.7" fill="#000"/>
<line x1="126.5" y1="1708" x2="976" y2="1708" stroke="#e60000" stroke-width="3.6" stroke-dasharray="5.4 10" stroke-linecap="round"/>
<line x1="124.1" y1="1647.34" x2="124.1" y2="2009.7" stroke="#000" stroke-width="2.6"/>
<line x1="111.5" y1="2008.4" x2="983" y2="2008.4" stroke="#000" stroke-width="2.6"/>
<line x1="111.5" y1="2008.4" x2="124.1" y2="2008.4" stroke="#000" stroke-width="2.6"/>
<text x="106.5" y="2015.8" font-size="24" text-anchor="end">0.0</text>
<line x1="117.4" y1="1978.42" x2="124.1" y2="1978.42" stroke="#000" stroke-width="2.6"/>
<line x1="111.5" y1="1948.44" x2="124.1" y2="1948.44" stroke="#000" stroke-width="2.6"/>
<text x="106.5" y="1955.84" font-size="24" text-anchor="end">0.2</text>
<line x1="117.4" y1="1918.46" x2="124.1" y2="1918.46" stroke="#000" stroke-width="2.6"/>
<line x1="111.5" y1="1888.48" x2="124.1" y2="1888.48" stroke="#000" stroke-width="2.6"/>
<text x="106.5" y="1895.88" font-size="24" text-anchor="end">0.4</text>
<line x1="117.4" y1="1858.5" x2="124.1" y2="1858.5" stroke="#000" stroke-width="2.6"/>
<line x1="111.5" y1="1828.52" x2="124.1" y2="1828.52" stroke="#000" stroke-width="2.6"/>
<text x="106.5" y="1835.92" font-size="24" text-anchor="end">0.6</text>
<line x1="117.4" y1="1798.54" x2="124.1" y2="1798.54" stroke="#000" stroke-width="2.6"/>
<line x1="111.5" y1="1768.56" x2="124.1" y2="1768.56" stroke="#000" stroke-width="2.6"/>
<text x="106.5" y="1775.96" font-size="24" text-anchor="end">0.8</text>
<line x1="117.4" y1="1738.58" x2="124.1" y2="1738.58" stroke="#000" stroke-width="2.6"/>
<line x1="111.5" y1="1708.6" x2="124.1" y2="1708.6" stroke="#000" stroke-width="2.6"/>
<text x="106.5" y="1716" font-size="24" text-anchor="end">1.0</text>
<line x1="117.4" y1="1678.62" x2="124.1" y2="1678.62" stroke="#000" stroke-width="2.6"/>
<line x1="111.5" y1="1648.64" x2="124.1" y2="1648.64" stroke="#000" stroke-width="2.6"/>
<text x="106.5" y="1656.04" font-size="24" text-anchor="end">1.2</text>
<line x1="144.05" y1="2008.4" x2="144.05" y2="2021" stroke="#000" stroke-width="2.6"/>
<text x="150.05" y="2046.3" font-size="23.2" text-anchor="end" transform="rotate(-45 150.05 2046.3)">CDKN1B</text>
<line x1="174.18" y1="2008.4" x2="174.18" y2="2021" stroke="#000" stroke-width="2.6"/>
<text x="180.18" y="2046.3" font-size="23.2" text-anchor="end" transform="rotate(-45 180.18 2046.3)">POP4</text>
<line x1="204.31" y1="2008.4" x2="204.31" y2="2021" stroke="#000" stroke-width="2.6"/>
<text x="210.31" y="2046.3" font-size="23.2" text-anchor="end" transform="rotate(-45 210.31 2046.3)">EIF2B1</text>
<line x1="234.44" y1="2008.4" x2="234.44" y2="2021" stroke="#000" stroke-width="2.6"/>
<text x="240.44" y="2046.3" font-size="23.2" text-anchor="end" transform="rotate(-45 240.44 2046.3)">CASC3</text>
<line x1="264.57" y1="2008.4" x2="264.57" y2="2021" stroke="#000" stroke-width="2.6"/>
<text x="270.57" y="2046.3" font-size="23.2" text-anchor="end" transform="rotate(-45 270.57 2046.3)">GUSB</text>
<line x1="294.7" y1="2008.4" x2="294.7" y2="2021" stroke="#000" stroke-width="2.6"/>
<text x="300.7" y="2046.3" font-size="23.2" text-anchor="end" transform="rotate(-45 300.7 2046.3)">UBC</text>
<line x1="324.83" y1="2008.4" x2="324.83" y2="2021" stroke="#000" stroke-width="2.6"/>
<text x="330.83" y="2046.3" font-size="23.2" text-anchor="end" transform="rotate(-45 330.83 2046.3)">PGK1</text>
<line x1="354.96" y1="2008.4" x2="354.96" y2="2021" stroke="#000" stroke-width="2.6"/>
<text x="360.96" y="2046.3" font-size="23.2" text-anchor="end" transform="rotate(-45 360.96 2046.3)">PPIA</text>
<line x1="385.09" y1="2008.4" x2="385.09" y2="2021" stroke="#000" stroke-width="2.6"/>
<text x="391.09" y="2046.3" font-size="23.2" text-anchor="end" transform="rotate(-45 391.09 2046.3)">ELF1</text>
<line x1="415.22" y1="2008.4" x2="415.22" y2="2021" stroke="#000" stroke-width="2.6"/>
<text x="421.22" y="2046.3" font-size="23.2" text-anchor="end" transform="rotate(-45 421.22 2046.3)">MRPL19</text>
<line x1="445.35" y1="2008.4" x2="445.35" y2="2021" stroke="#000" stroke-width="2.6"/>
<text x="451.35" y="2046.3" font-size="23.2" text-anchor="end" transform="rotate(-45 451.35 2046.3)">RPLP0</text>
<line x1="475.48" y1="2008.4" x2="475.48" y2="2021" stroke="#000" stroke-width="2.6"/>
<text x="481.48" y="2046.3" font-size="23.2" text-anchor="end" transform="rotate(-45 481.48 2046.3)">TFRC</text>
<line x1="505.61" y1="2008.4" x2="505.61" y2="2021" stroke="#000" stroke-width="2.6"/>
<text x="511.61" y="2046.3" font-size="23.2" text-anchor="end" transform="rotate(-45 511.61 2046.3)">TBP</text>
<line x1="535.74" y1="2008.4" x2="535.74" y2="2021" stroke="#000" stroke-width="2.6"/>
<text x="541.74" y="2046.3" font-size="23.2" text-anchor="end" transform="rotate(-45 541.74 2046.3)">YWHAZ</text>
<line x1="565.87" y1="2008.4" x2="565.87" y2="2021" stroke="#000" stroke-width="2.6"/>
<text x="571.87" y="2046.3" font-size="23.2" text-anchor="end" transform="rotate(-45 571.87 2046.3)">GAPDH</text>
<line x1="596" y1="2008.4" x2="596" y2="2021" stroke="#000" stroke-width="2.6"/>
<text x="602" y="2046.3" font-size="23.2" text-anchor="end" transform="rotate(-45 602 2046.3)">HMBS</text>
<line x1="626.13" y1="2008.4" x2="626.13" y2="2021" stroke="#000" stroke-width="2.6"/>
<text x="632.13" y="2046.3" font-size="23.2" text-anchor="end" transform="rotate(-45 632.13 2046.3)">IPO8</text>
<line x1="656.26" y1="2008.4" x2="656.26" y2="2021" stroke="#000" stroke-width="2.6"/>
<text x="662.26" y="2046.3" font-size="23.2" text-anchor="end" transform="rotate(-45 662.26 2046.3)">B2M</text>
<line x1="686.39" y1="2008.4" x2="686.39" y2="2021" stroke="#000" stroke-width="2.6"/>
<text x="692.39" y="2046.3" font-size="23.2" text-anchor="end" transform="rotate(-45 692.39 2046.3)">POLR2A</text>
<line x1="716.52" y1="2008.4" x2="716.52" y2="2021" stroke="#000" stroke-width="2.6"/>
<text x="722.52" y="2046.3" font-size="23.2" text-anchor="end" transform="rotate(-45 722.52 2046.3)">PSMC4</text>
<line x1="746.65" y1="2008.4" x2="746.65" y2="2021" stroke="#000" stroke-width="2.6"/>
<text x="752.65" y="2046.3" font-size="23.2" text-anchor="end" transform="rotate(-45 752.65 2046.3)">PES1</text>
<line x1="776.78" y1="2008.4" x2="776.78" y2="2021" stroke="#000" stroke-width="2.6"/>
<text x="782.78" y="2046.3" font-size="23.2" text-anchor="end" transform="rotate(-45 782.78 2046.3)">ABL1</text>
<line x1="806.91" y1="2008.4" x2="806.91" y2="2021" stroke="#000" stroke-width="2.6"/>
<text x="812.91" y="2046.3" font-size="23.2" text-anchor="end" transform="rotate(-45 812.91 2046.3)">PUM1</text>
<line x1="837.04" y1="2008.4" x2="837.04" y2="2021" stroke="#000" stroke-width="2.6"/>
<text x="843.04" y="2046.3" font-size="23.2" text-anchor="end" transform="rotate(-45 843.04 2046.3)">18S</text>
<line x1="867.17" y1="2008.4" x2="867.17" y2="2021" stroke="#000" stroke-width="2.6"/>
<text x="873.17" y="2046.3" font-size="23.2" text-anchor="end" transform="rotate(-45 873.17 2046.3)">HPRT1</text>
<line x1="897.3" y1="2008.4" x2="897.3" y2="2021" stroke="#000" stroke-width="2.6"/>
<text x="903.3" y="2046.3" font-size="23.2" text-anchor="end" transform="rotate(-45 903.3 2046.3)">ACTB</text>
<line x1="927.43" y1="2008.4" x2="927.43" y2="2021" stroke="#000" stroke-width="2.6"/>
<text x="933.43" y="2046.3" font-size="23.2" text-anchor="end" transform="rotate(-45 933.43 2046.3)">CDKN1A</text>
<line x1="957.56" y1="2008.4" x2="957.56" y2="2021" stroke="#000" stroke-width="2.6"/>
<text x="963.56" y="2046.3" font-size="23.2" text-anchor="end" transform="rotate(-45 963.56 2046.3)">GADD45A</text>
<text x="552.4" y="1610.5" font-size="31" text-anchor="middle">BestKeeper</text>
<text x="60.3" y="1828.4" font-size="25" text-anchor="middle" transform="rotate(-90 60.3 1828.4)">Standard deviation (SD)</text>
<line x1="93.3" y1="2139.4" x2="969.1" y2="2139.4" stroke="#000" stroke-width="3"/>
<polygon points="72.1,2139.4 94.3,2130.4 94.3,2148.4" fill="#000"/>
<polygon points="990.3,2139.4 968.1,2130.4 968.1,2148.4" fill="#000"/>
<text x="95" y="2176.4" font-size="25.4" text-anchor="start">high</text>
<text x="528.6" y="2176.4" font-size="25.4" text-anchor="middle">stability</text>
<text x="965.3" y="2176.4" font-size="25.4" text-anchor="end">low</text>
<rect x="1145.5" y="1874" width="19.9" height="138.5" fill="#000"/>
<rect x="1176.07" y="1872.4" width="19.9" height="140.1" fill="#000"/>
<rect x="1206.64" y="1871.2" width="19.9" height="141.3" fill="#000"/>
<rect x="1237.21" y="1867.7" width="19.9" height="144.8" fill="#000"/>
<rect x="1267.78" y="1865.9" width="19.9" height="146.6" fill="#000"/>
<rect x="1298.35" y="1864.7" width="19.9" height="147.8" fill="#000"/>
<rect x="1328.92" y="1863.1" width="19.9" height="149.4" fill="#000"/>
<rect x="1359.49" y="1861.2" width="19.9" height="151.3" fill="#000"/>
<rect x="1390.06" y="1858.2" width="19.9" height="154.3" fill="#000"/>
<rect x="1420.63" y="1851.7" width="19.9" height="160.8" fill="#000"/>
<rect x="1451.2" y="1849.9" width="19.9" height="162.6" fill="#000"/>
<rect x="1481.77" y="1845.1" width="19.9" height="167.4" fill="#000"/>
<rect x="1512.34" y="1843.8" width="19.9" height="168.7" fill="#000"/>
<rect x="1542.91" y="1842.5" width="19.9" height="170" fill="#000"/>
<rect x="1573.48" y="1841.8" width="19.9" height="170.7" fill="#000"/>
<rect x="1604.05" y="1840.2" width="19.9" height="172.3" fill="#000"/>
<rect x="1635.37" y="1840.35" width="18.4" height="171.65" fill="url(#pblack)" stroke="#000" stroke-width="1.5"/>
<rect x="1665.19" y="1839.3" width="19.9" height="173.2" fill="#000"/>
<rect x="1695.76" y="1838.6" width="19.9" height="173.9" fill="#000"/>
<rect x="1726.33" y="1835.7" width="19.9" height="176.8" fill="#000"/>
<rect x="1756.9" y="1829.2" width="19.9" height="183.3" fill="#000"/>
<rect x="1787.47" y="1788.2" width="19.9" height="224.3" fill="#000"/>
<rect x="1818.79" y="1788.95" width="18.4" height="223.05" fill="url(#pblack)" stroke="#000" stroke-width="1.5"/>
<rect x="1848.61" y="1785" width="19.9" height="227.5" fill="#000"/>
<rect x="1879.18" y="1775.6" width="19.9" height="236.9" fill="#000"/>
<rect x="1909.75" y="1756.6" width="19.9" height="255.9" fill="#000"/>
<rect x="1940.32" y="1724.9" width="19.9" height="287.6" fill="#000"/>
<rect x="1970.89" y="1696.2" width="19.9" height="316.3" fill="#000"/>
<line x1="1134" y1="1696.6" x2="1990" y2="1696.6" stroke="#e60000" stroke-width="3.6" stroke-dasharray="5.5 9.6" stroke-linecap="round"/>
<line x1="1134.8" y1="1631.5" x2="1134.8" y2="2013.5" stroke="#000" stroke-width="3"/>
<line x1="1122.9" y1="2012" x2="2003.8" y2="2012" stroke="#000" stroke-width="2.8"/>
<line x1="1122.9" y1="2012" x2="1134.8" y2="2012" stroke="#000" stroke-width="2.6"/>
<text x="1118" y="2019.4" font-size="24" text-anchor="end">0.0</text>
<line x1="1128.3" y1="1980.4" x2="1134.8" y2="1980.4" stroke="#000" stroke-width="2.6"/>
<line x1="1122.9" y1="1948.8" x2="1134.8" y2="1948.8" stroke="#000" stroke-width="2.6"/>
<text x="1118" y="1956.2" font-size="24" text-anchor="end">0.2</text>
<line x1="1128.3" y1="1917.2" x2="1134.8" y2="1917.2" stroke="#000" stroke-width="2.6"/>
<line x1="1122.9" y1="1885.6" x2="1134.8" y2="1885.6" stroke="#000" stroke-width="2.6"/>
<text x="1118" y="1893" font-size="24" text-anchor="end">0.4</text>
<line x1="1128.3" y1="1854" x2="1134.8" y2="1854" stroke="#000" stroke-width="2.6"/>
<line x1="1122.9" y1="1822.4" x2="1134.8" y2="1822.4" stroke="#000" stroke-width="2.6"/>
<text x="1118" y="1829.8" font-size="24" text-anchor="end">0.6</text>
<line x1="1128.3" y1="1790.8" x2="1134.8" y2="1790.8" stroke="#000" stroke-width="2.6"/>
<line x1="1122.9" y1="1759.2" x2="1134.8" y2="1759.2" stroke="#000" stroke-width="2.6"/>
<text x="1118" y="1766.6" font-size="24" text-anchor="end">0.8</text>
<line x1="1128.3" y1="1727.6" x2="1134.8" y2="1727.6" stroke="#000" stroke-width="2.6"/>
<line x1="1122.9" y1="1696" x2="1134.8" y2="1696" stroke="#000" stroke-width="2.6"/>
<text x="1118" y="1703.4" font-size="24" text-anchor="end">1.0</text>
<line x1="1128.3" y1="1664.4" x2="1134.8" y2="1664.4" stroke="#000" stroke-width="2.6"/>
<line x1="1122.9" y1="1632.8" x2="1134.8" y2="1632.8" stroke="#000" stroke-width="2.6"/>
<text x="1118" y="1640.2" font-size="24" text-anchor="end">1.2</text>
<line x1="1155.45" y1="2012" x2="1155.45" y2="2024.5" stroke="#000" stroke-width="2.6"/>
<text x="1161.45" y="2048.5" font-size="22.8" text-anchor="end" transform="rotate(-45 1161.45 2048.5)">EIF2B1</text>
<line x1="1186.02" y1="2012" x2="1186.02" y2="2024.5" stroke="#000" stroke-width="2.6"/>
<text x="1192.02" y="2048.5" font-size="22.8" text-anchor="end" transform="rotate(-45 1192.02 2048.5)">UBC</text>
<line x1="1216.59" y1="2012" x2="1216.59" y2="2024.5" stroke="#000" stroke-width="2.6"/>
<text x="1222.59" y="2048.5" font-size="22.8" text-anchor="end" transform="rotate(-45 1222.59 2048.5)">CASC3</text>
<line x1="1247.16" y1="2012" x2="1247.16" y2="2024.5" stroke="#000" stroke-width="2.6"/>
<text x="1253.16" y="2048.5" font-size="22.8" text-anchor="end" transform="rotate(-45 1253.16 2048.5)">POP4</text>
<line x1="1277.73" y1="2012" x2="1277.73" y2="2024.5" stroke="#000" stroke-width="2.6"/>
<text x="1283.73" y="2048.5" font-size="22.8" text-anchor="end" transform="rotate(-45 1283.73 2048.5)">PSMC4</text>
<line x1="1308.3" y1="2012" x2="1308.3" y2="2024.5" stroke="#000" stroke-width="2.6"/>
<text x="1314.3" y="2048.5" font-size="22.8" text-anchor="end" transform="rotate(-45 1314.3 2048.5)">MRPL19</text>
<line x1="1338.87" y1="2012" x2="1338.87" y2="2024.5" stroke="#000" stroke-width="2.6"/>
<text x="1344.87" y="2048.5" font-size="22.8" text-anchor="end" transform="rotate(-45 1344.87 2048.5)">TFRC</text>
<line x1="1369.44" y1="2012" x2="1369.44" y2="2024.5" stroke="#000" stroke-width="2.6"/>
<text x="1375.44" y="2048.5" font-size="22.8" text-anchor="end" transform="rotate(-45 1375.44 2048.5)">YWHAZ</text>
<line x1="1400.01" y1="2012" x2="1400.01" y2="2024.5" stroke="#000" stroke-width="2.6"/>
<text x="1406.01" y="2048.5" font-size="22.8" text-anchor="end" transform="rotate(-45 1406.01 2048.5)">GUSB</text>
<line x1="1430.58" y1="2012" x2="1430.58" y2="2024.5" stroke="#000" stroke-width="2.6"/>
<text x="1436.58" y="2048.5" font-size="22.8" text-anchor="end" transform="rotate(-45 1436.58 2048.5)">IPO8</text>
<line x1="1461.15" y1="2012" x2="1461.15" y2="2024.5" stroke="#000" stroke-width="2.6"/>
<text x="1467.15" y="2048.5" font-size="22.8" text-anchor="end" transform="rotate(-45 1467.15 2048.5)">ELF1</text>
<line x1="1491.72" y1="2012" x2="1491.72" y2="2024.5" stroke="#000" stroke-width="2.6"/>
<text x="1497.72" y="2048.5" font-size="22.8" text-anchor="end" transform="rotate(-45 1497.72 2048.5)">B2M</text>
<line x1="1522.29" y1="2012" x2="1522.29" y2="2024.5" stroke="#000" stroke-width="2.6"/>
<text x="1528.29" y="2048.5" font-size="22.8" text-anchor="end" transform="rotate(-45 1528.29 2048.5)">PES1</text>
<line x1="1552.86" y1="2012" x2="1552.86" y2="2024.5" stroke="#000" stroke-width="2.6"/>
<text x="1558.86" y="2048.5" font-size="22.8" text-anchor="end" transform="rotate(-45 1558.86 2048.5)">PGK1</text>
<line x1="1583.43" y1="2012" x2="1583.43" y2="2024.5" stroke="#000" stroke-width="2.6"/>
<text x="1589.43" y="2048.5" font-size="22.8" text-anchor="end" transform="rotate(-45 1589.43 2048.5)">ABL1</text>
<line x1="1614" y1="2012" x2="1614" y2="2024.5" stroke="#000" stroke-width="2.6"/>
<text x="1620" y="2048.5" font-size="22.8" text-anchor="end" transform="rotate(-45 1620 2048.5)">TBP</text>
<line x1="1644.57" y1="2012" x2="1644.57" y2="2024.5" stroke="#000" stroke-width="2.6"/>
<text x="1650.57" y="2048.5" font-size="22.8" text-anchor="end" transform="rotate(-45 1650.57 2048.5)">GAPDH</text>
<line x1="1675.14" y1="2012" x2="1675.14" y2="2024.5" stroke="#000" stroke-width="2.6"/>
<text x="1681.14" y="2048.5" font-size="22.8" text-anchor="end" transform="rotate(-45 1681.14 2048.5)">PPIA</text>
<line x1="1705.71" y1="2012" x2="1705.71" y2="2024.5" stroke="#000" stroke-width="2.6"/>
<text x="1711.71" y="2048.5" font-size="22.8" text-anchor="end" transform="rotate(-45 1711.71 2048.5)">RPLP0</text>
<line x1="1736.28" y1="2012" x2="1736.28" y2="2024.5" stroke="#000" stroke-width="2.6"/>
<text x="1742.28" y="2048.5" font-size="22.8" text-anchor="end" transform="rotate(-45 1742.28 2048.5)">18S</text>
<line x1="1766.85" y1="2012" x2="1766.85" y2="2024.5" stroke="#000" stroke-width="2.6"/>
<text x="1772.85" y="2048.5" font-size="22.8" text-anchor="end" transform="rotate(-45 1772.85 2048.5)">PUM1</text>
<line x1="1797.42" y1="2012" x2="1797.42" y2="2024.5" stroke="#000" stroke-width="2.6"/>
<text x="1803.42" y="2048.5" font-size="22.8" text-anchor="end" transform="rotate(-45 1803.42 2048.5)">POLR2A</text>
<line x1="1827.99" y1="2012" x2="1827.99" y2="2024.5" stroke="#000" stroke-width="2.6"/>
<text x="1833.99" y="2048.5" font-size="22.8" text-anchor="end" transform="rotate(-45 1833.99 2048.5)">ACTB</text>
<line x1="1858.56" y1="2012" x2="1858.56" y2="2024.5" stroke="#000" stroke-width="2.6"/>
<text x="1864.56" y="2048.5" font-size="22.8" text-anchor="end" transform="rotate(-45 1864.56 2048.5)">HPRT1</text>
<line x1="1889.13" y1="2012" x2="1889.13" y2="2024.5" stroke="#000" stroke-width="2.6"/>
<text x="1895.13" y="2048.5" font-size="22.8" text-anchor="end" transform="rotate(-45 1895.13 2048.5)">HMBS</text>
<line x1="1919.7" y1="2012" x2="1919.7" y2="2024.5" stroke="#000" stroke-width="2.6"/>
<text x="1925.7" y="2048.5" font-size="22.8" text-anchor="end" transform="rotate(-45 1925.7 2048.5)">CDKN1A</text>
<line x1="1950.27" y1="2012" x2="1950.27" y2="2024.5" stroke="#000" stroke-width="2.6"/>
<text x="1956.27" y="2048.5" font-size="22.8" text-anchor="end" transform="rotate(-45 1956.27 2048.5)">CDKN1B</text>
<line x1="1980.84" y1="2012" x2="1980.84" y2="2024.5" stroke="#000" stroke-width="2.6"/>
<text x="1986.84" y="2048.5" font-size="22.8" text-anchor="end" transform="rotate(-45 1986.84 2048.5)">GADD45A</text>
<text x="1568.2" y="1595.9" font-size="29.5" text-anchor="middle">Delta CT</text>
<text x="1071.8" y="1822.7" font-size="25" text-anchor="middle" transform="rotate(-90 1071.8 1822.7)">Average of STDEV</text>
<line x1="1115.9" y1="2138.7" x2="1966.9" y2="2138.7" stroke="#000" stroke-width="2.9"/>
<polygon points="1095.1,2138.7 1116.9,2129.7 1116.9,2147.7" fill="#000"/>
<polygon points="1987.7,2138.7 1965.9,2129.7 1965.9,2147.7" fill="#000"/>
<text x="1117.2" y="2174.3" font-size="25.4" text-anchor="start">high</text>
<text x="1539.4" y="2174.3" font-size="25.4" text-anchor="middle">stability</text>
<text x="1964" y="2174.3" font-size="25.4" text-anchor="end">low</text>
</svg>
</body></html>
